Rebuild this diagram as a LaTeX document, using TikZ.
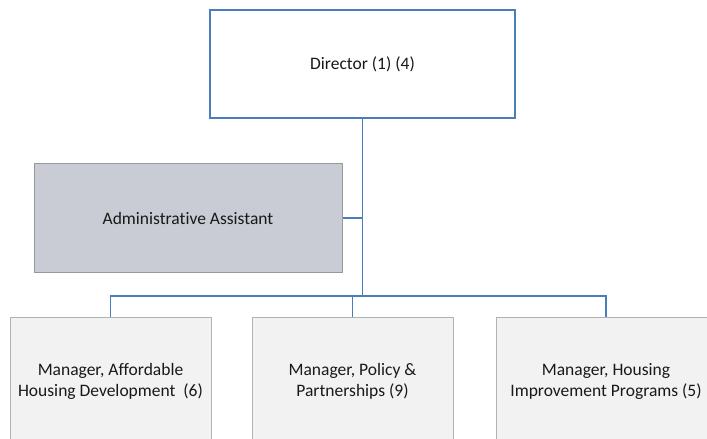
\documentclass[tikz,border=0pt]{standalone}
\usepackage{fontspec}
\setmainfont{Carlito}[Ligatures=NoCommon]
\usepackage{xcolor}
\usepackage{tikz}
\usetikzlibrary{positioning}

\definecolor{linkblue}{HTML}{4A7EBB}
\definecolor{assistgray}{HTML}{C9CCD4}
\definecolor{managergray}{HTML}{F2F2F2}

\begin{document}
\begin{tikzpicture}[x=1pt, y=1pt,
  head/.style={rectangle, draw=linkblue, line width=1.4pt, fill=white, minimum width=305pt, minimum height=108pt, inner sep=0pt, align=center},
  assist/.style={rectangle, draw=black!40, line width=1pt, fill=assistgray, minimum width=308pt, minimum height=109pt, inner sep=0pt, align=center},
  manager/.style={rectangle, draw=black!30, line width=1pt, fill=managergray, minimum width=201pt, minimum height=126pt, inner sep=0pt, align=center},
  link/.style={draw=linkblue, line width=1.5pt},
  every node/.style={font=\fontsize{17.5}{21}\selectfont, text=black!90}
]
\useasboundingbox (0,0) rectangle (707,439);
\clip (0,0) rectangle (707,439);

% Top
\node[head] (director) at (362.5,375) {Director (1) (4)};

% Staff
\node[assist] (admin) at (188,221) {Administrative Assistant};

% Managers
\node[manager] (affordable) at (110.5,58) {Manager, Affordable\\Housing Development~ (6)};
\node[manager] (policy) at (352.5,58) {Manager, Policy \&\\Partnerships (9)};
\node[manager, minimum width=220pt] (improvement) at (606,58) {Manager, Housing\\Improvement Programs (5)};

% Connections
\coordinate (hub) at (director.south |- 0,143);
\draw[link] (director.south) -- (hub);
\draw[link] (admin.east) -- (admin.east -| director.south);
\draw[link] (affordable.north) |- (hub) -| (improvement.north);
\draw[link] (policy.north) -- (policy.north |- hub);

\end{tikzpicture}
\end{document}
